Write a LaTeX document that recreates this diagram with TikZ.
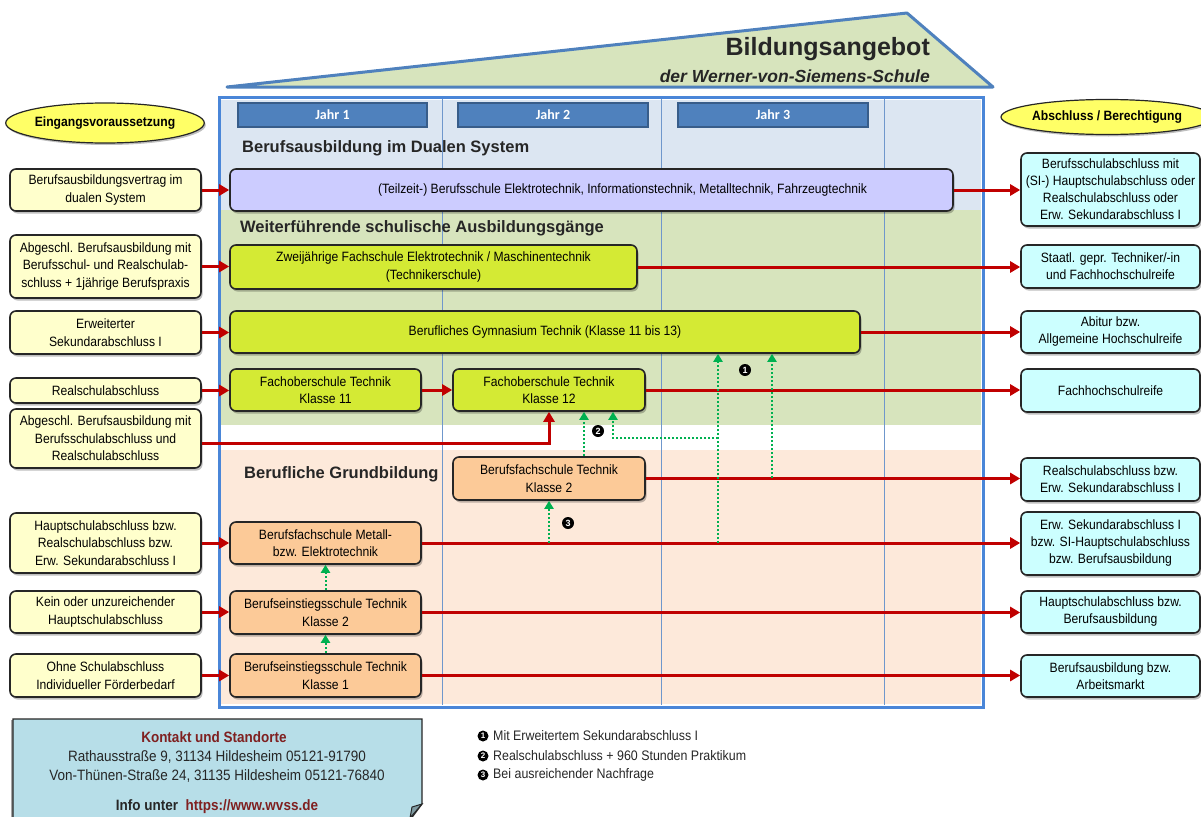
\documentclass[tikz,border=0pt]{standalone}
\usepackage{fontspec}
\setmainfont{Liberation Sans}
\newfontfamily\cn{Liberation Sans}[FakeStretch=0.9]
\newfontfamily\carl{Carlito}
\usetikzlibrary{arrows.meta,shadows,shapes.geometric}
\definecolor{lboxc}{HTML}{FFFFCC}
\definecolor{rboxc}{HTML}{CCFFFF}
\definecolor{gboxc}{HTML}{D4EA34}
\definecolor{pboxc}{HTML}{FCCA98}
\definecolor{dboxc}{HTML}{CCCCFF}
\definecolor{ellc}{HTML}{FFFF66}
\definecolor{bandb}{HTML}{DCE6F2}
\definecolor{bandg}{HTML}{D7E4BD}
\definecolor{bandp}{HTML}{FDE9DA}
\definecolor{framec}{HTML}{4A86D8}
\definecolor{gridc}{HTML}{6F97CC}
\definecolor{jahrc}{HTML}{4F81BD}
\definecolor{jahrb}{HTML}{385D8A}
\definecolor{roofc}{HTML}{D7E4BD}
\definecolor{redc}{HTML}{C00000}
\definecolor{grnc}{HTML}{00B050}
\definecolor{contc}{HTML}{B7DEE8}
\definecolor{darkred}{HTML}{7F2020}
\definecolor{bordc}{HTML}{262626}
\newcommand\mybox[7]{\node[#2,minimum width={(#5-#3)*1pt},minimum height={(#6-#4)*1pt}] (#1) at ({(#3+#5)/2},{(#4+#6)/2}) {#7};}
\begin{document}
\begin{tikzpicture}[x=1pt,y=-1pt,
  base/.style={draw=bordc,line width=1.6pt,rounded corners=6pt,inner sep=0pt,align=center,
    font=\cn\fontsize{13.5}{17.5}\selectfont,
    drop shadow={opacity=0.25,shadow xshift=1.5pt,shadow yshift=-2.5pt,fill=black}},
  lbox/.style={base,fill=lboxc},
  rbox/.style={base,fill=rboxc,font=\cn\fontsize{13.5}{17}\selectfont},
  gbox/.style={base,fill=gboxc},
  pbox/.style={base,fill=pboxc},
  dbox/.style={base,fill=dboxc},
  ell/.style={ellipse,draw=bordc,line width=1.2pt,fill=ellc,inner sep=0pt,
    font=\cn\bfseries\fontsize{13.5}{16}\selectfont,
    drop shadow={opacity=0.25,shadow xshift=1.5pt,shadow yshift=-2pt,fill=black}},
  jahr/.style={draw=jahrb,line width=1.5pt,fill=jahrc,inner sep=0pt,text=white,
    font=\carl\bfseries\fontsize{14}{16}\selectfont},
  head/.style={anchor=west,inner sep=0pt,font=\bfseries\fontsize{16.5}{19}\selectfont,text=black!85},
  redarr/.style={draw=redc,line width=3pt,-{Triangle[length=10pt,width=11pt]}},
  grnarr/.style={draw=grnc,line width=2pt,dash pattern=on 2pt off 2pt,-{Triangle[length=8pt,width=9pt]}},
  fn/.style={circle,fill=black,text=white,inner sep=0pt,minimum size=12pt,font=\bfseries\fontsize{9}{9}\selectfont},
  fnsmall/.style={fn,minimum size=11pt,font=\bfseries\fontsize{8}{8}\selectfont},
  fntext/.style={anchor=west,inner sep=0pt,font=\cn\fontsize{13.8}{15}\selectfont,text=black!85},
]
\useasboundingbox (0,0) rectangle (1201,816);

% roof
\filldraw[fill=roofc,draw=jahrc,line width=3pt,line join=round] (227,87) -- (907,13) -- (993,87) -- cycle;
\node[anchor=base east,inner sep=0pt,font=\bfseries\fontsize{25}{28}\selectfont,text=black!85] (title) at (930,56) {Bildungsangebot};
\node[anchor=base east,inner sep=0pt,font=\bfseries\itshape\fontsize{17.5}{19}\selectfont,text=black!85] (subtitle) at (930,82) {der Werner-von-Siemens-Schule};

% bands
\fill[bandb] (221,100) rectangle (981,210);
\fill[bandg] (221,210) rectangle (981,425);
\fill[bandp] (221,450) rectangle (981,704);
% grid
\foreach \gx in {442,661,884} \draw[gridc,line width=0.8pt] (\gx,99) -- (\gx,705);
% frame
\draw[framec,line width=3pt] (219,97) rectangle (983,707);

% year headers
\mybox{j1}{jahr}{238}{103}{427}{127}{Jahr 1}
\mybox{j2}{jahr}{458}{103}{648}{127}{Jahr 2}
\mybox{j3}{jahr}{678}{103}{868}{127}{Jahr 3}

% headings
\node[head] (h1) at (242,148) {Berufsausbildung im Dualen System};
\node[head] (h2) at (240,228) {Weiterführende schulische Ausbildungsgänge};
\node[head] (h3) at (244,474) {Berufliche Grundbildung};

% ellipses
\node[ell,minimum width=193pt,minimum height=40pt] (e1) at (105,123) {Eingangsvoraussetzung};
\node[ell,minimum width=174pt,minimum height=35pt] (e2) at (1107,117) {Abschluss / Berechtigung};

% left boxes
\mybox{L1}{lbox}{10}{169}{201}{211}{Berufsausbildungsvertrag im\\dualen System}
\mybox{L2}{lbox}{10}{235}{201}{298}{Abgeschl. Berufsausbildung mit\\Berufsschul- und Realschulab-\\schluss + 1jährige Berufspraxis}
\mybox{L3}{lbox}{10}{311}{201}{354}{Erweiterter\\Sekundarabschluss I}
\mybox{L4}{lbox}{10}{378}{201}{403}{Realschulabschluss}
\mybox{L5}{lbox}{10}{409}{201}{468}{Abgeschl. Berufsausbildung mit\\Berufsschulabschluss und\\Realschulabschluss}
\mybox{L6}{lbox}{10}{513}{201}{573}{Hauptschulabschluss bzw.\\Realschulabschluss bzw.\\Erw. Sekundarabschluss I}
\mybox{L7}{lbox}{10}{591}{201}{633}{Kein oder unzureichender\\Hauptschulabschluss}
\mybox{L8}{lbox}{10}{654}{201}{697}{Ohne Schulabschluss\\Individueller Förderbedarf}

% center boxes
\mybox{D}{dbox}{230}{169}{953}{211}{\hspace*{62pt}(Teilzeit-) Berufsschule Elektrotechnik, Informationstechnik, Metalltechnik, Fahrzeugtechnik}
\mybox{FS}{gbox}{230}{245}{637}{289}{Zweijährige Fachschule Elektrotechnik / Maschinentechnik\\(Technikerschule)}
\mybox{GY}{gbox}{230}{311}{860}{353}{Berufliches Gymnasium Technik (Klasse 11 bis 13)}
\mybox{F11}{gbox}{230}{369}{421}{411}{Fachoberschule Technik\\Klasse 11}
\mybox{F12}{gbox}{453}{369}{645}{411}{Fachoberschule Technik\\Klasse 12}
\mybox{BT}{pbox}{453}{457}{645}{500}{Berufsfachschule Technik\\Klasse 2}
\mybox{BM}{pbox}{230}{522}{421}{564}{Berufsfachschule Metall-\\bzw. Elektrotechnik}
\mybox{B2}{pbox}{230}{591}{421}{634}{Berufseinstiegsschule Technik\\Klasse 2}
\mybox{B1}{pbox}{230}{654}{421}{697}{Berufseinstiegsschule Technik\\Klasse 1}

% right boxes
\mybox{R1}{rbox}{1021}{153}{1200}{226}{Berufsschulabschluss mit\\(SI-) Hauptschulabschluss oder\\Realschulabschluss oder\\Erw. Sekundarabschluss I}
\mybox{R2}{rbox}{1021}{245}{1200}{288}{Staatl. gepr. Techniker/-in\\und Fachhochschulreife}
\mybox{R3}{rbox}{1021}{311}{1200}{353}{Abitur bzw.\\Allgemeine Hochschulreife}
\mybox{R4}{rbox}{1021}{369}{1200}{412}{Fachhochschulreife}
\mybox{R5}{rbox}{1021}{458}{1200}{501}{Realschulabschluss bzw.\\Erw. Sekundarabschluss I}
\mybox{R6}{rbox}{1021}{512}{1200}{575}{Erw. Sekundarabschluss I\\bzw. SI-Hauptschulabschluss\\bzw. Berufsausbildung}
\mybox{R7}{rbox}{1021}{591}{1200}{633}{Hauptschulabschluss bzw.\\Berufsausbildung}
\mybox{R8}{rbox}{1021}{655}{1200}{697}{Berufsausbildung bzw.\\Arbeitsmarkt}

% red arrows left
\draw[redarr] (L1.east) -- (L1.east -| D.west);
\draw[redarr] (L2.east) -- (L2.east -| FS.west);
\draw[redarr] (L3.east) -- (L3.east -| GY.west);
\draw[redarr] (L4.east) -- (L4.east -| F11.west);
\draw[redarr] (L6.east) -- (L6.east -| BM.west);
\draw[redarr] (L7.east) -- (L7.east -| B2.west);
\draw[redarr] (L8.east) -- (L8.east -| B1.west);
\draw[redarr] ([yshift=-5pt]L5.east) -| (F12.south);
\draw[redarr] (F11.east) -- (F11.east -| F12.west);
% red arrows right
\draw[redarr] (D.east) -- (D.east -| R1.west);
\draw[redarr] (FS.east) -- (FS.east -| R2.west);
\draw[redarr] (GY.east) -- (GY.east -| R3.west);
\draw[redarr] (F12.east) -- (F12.east -| R4.west);
\draw[redarr] (BT.east) -- (BT.east -| R5.west);
\draw[redarr] (BM.east) -- (BM.east -| R6.west);
\draw[redarr] (B2.east) -- (B2.east -| R7.west);
\draw[redarr] (B1.east) -- (B1.east -| R8.west);

% green dotted arrows
\draw[grnarr] (B1.north) -- (B2.south);
\draw[grnarr] (B2.north) -- (BM.south);
\draw[grnarr] (BT.south |- BM.east) -- (BT.south);
\draw[grnarr] ([xshift=35pt]BT.north) -- ([xshift=35pt]F12.south);
\coordinate (c1) at (718,543);
\coordinate (c2) at (772,478);
\coordinate (c3) at (718,438);
\draw[grnarr] (c1) -- (c1 |- GY.south);
\draw[grnarr] (c3) -| ([xshift=64pt]F12.south);
\draw[grnarr] (c2) -- (c2 |- GY.south);

% footnote markers
\node[fn] (m1) at (745,370) {1};
\node[fn] (m2) at (598,431) {2};
\node[fn] (m3) at (568,523) {3};

% footnotes
\node[fnsmall] (f1) at (483,736) {1};
\node[fnsmall] (f2) at (483,756) {2};
\node[fnsmall] (f3) at (483,775) {3};
\node[fntext] (t1) at (493,736) {Mit Erweitertem Sekundarabschluss I};
\node[fntext] (t2) at (493,756) {Realschulabschluss + 960 Stunden Praktikum};
\node[fntext] (t3) at (493,775) {Bei ausreichender Nachfrage};

% contact box
\filldraw[fill=contc,draw=bordc,line width=1.2pt,
  drop shadow={opacity=0.35,shadow xshift=-2pt,shadow yshift=-1pt,fill=black}]
  (13,719) -- (422,719) -- (422,804) -- (410,820) -- (13,820) -- cycle;
\filldraw[fill=contc!70!black,draw=bordc,line width=1pt] (422,804) -- (412,807) -- (410,818) -- cycle;
\node[inner sep=0pt,font=\cn\bfseries\fontsize{15}{16}\selectfont,text=darkred] (k1) at (214,737) {Kontakt und Standorte};
\node[inner sep=0pt,font=\cn\fontsize{15}{16}\selectfont,text=black!85] (k2) at (217,757) {Rathausstraße 9, 31134 Hildesheim 05121-91790};
\node[inner sep=0pt,font=\cn\fontsize{15}{16}\selectfont,text=black!85] (k3) at (217,776) {Von-Thünen-Straße 24, 31135 Hildesheim 05121-76840};
\node[inner sep=0pt,font=\cn\bfseries\fontsize{15}{16}\selectfont,text=black!85] (k4) at (217,807) {Info unter\ \ \textcolor{darkred}{https://www.wvss.de}};
\end{tikzpicture}
\end{document}
